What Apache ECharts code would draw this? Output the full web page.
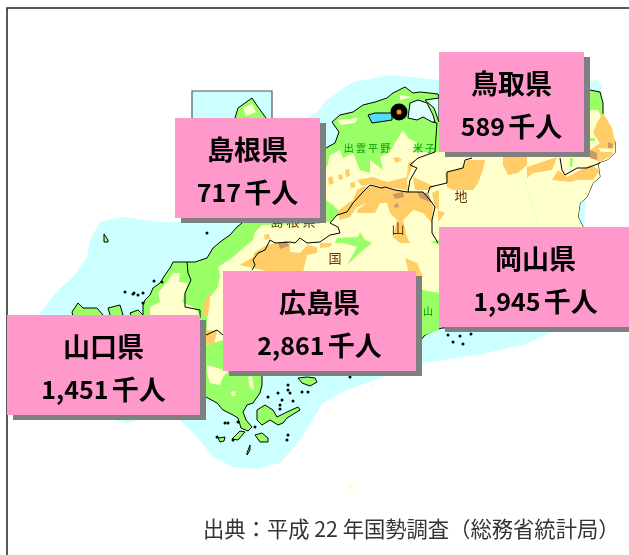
<!DOCTYPE html>
<html>
<head>
<meta charset="utf-8">
<style>
  html, body { margin: 0; padding: 0; background: #fff; }
  #chart { width: 629px; height: 555px; }
</style>
<script src="https://cdn.jsdelivr.net/npm/echarts@6/dist/echarts.min.js"></script>
</head>
<body>
<div id="chart"></div>
<script>
// 県別人口
const prefectures = ['島根県', '鳥取県', '岡山県', '広島県', '山口県']
const population = [717, 589, 1945, 2861, 1451]
const unit = '千人'
const source = '出典：平成 22 年国勢調査（総務省統計局）'

// 枠の中心と大きさ (画面座標)
const boxCenters = [[247.5, 168], [511.5, 102], [535.5, 277], [319.5, 321], [103.5, 365]]
const boxWidths = [145, 145, 193, 193, 193]

// 地図の形 (画面座標をそのまま経緯度の代わりに使う)
const seaShape = [[90,240],[100,222],[123,217],[160,222],[200,222],[250,150],[317,112],[327,100],[353,82],[390,75],[440,80],[585,82],[597,80],[602,85],[602,100],[590,130],[580,300],[550,333],[523,345],[477,355],[422,363],[383,377],[347,390],[323,403],[300,440],[280,463],[257,469],[233,467],[213,457],[197,437],[180,420],[140,420],[127,423],[113,420],[60,400],[30,330],[40,313],[58,290],[73,277],[87,257]]
const insetFrame = [[192,91],[272,91],[272,125],[192,125]]
const mainland = [[143,315],[143,305],[145,300],[150,295],[153,288],[160,283],[165,275],[170,268],[173,262],[183,262],[195,262],[207,258],[213,248],[220,242],[230,235],[237,227],[242,223],[326,148],[335,143],[339,132],[332,122],[340,115],[353,112],[363,105],[375,102],[387,98],[393,93],[405,87],[413,93],[420,92],[438,94],[445,120],[590,90],[600,92],[603,103],[603,120],[610,127],[612,137],[615,142],[615,153],[607,160],[598,163],[600,177],[593,183],[587,197],[580,203],[578,217],[583,227],[600,300],[560,325],[442,328],[435,330],[425,335],[421,340],[400,360],[300,372],[262,372],[262,385],[260,393],[253,403],[247,405],[243,412],[246,420],[252,427],[248,431],[241,428],[238,418],[233,415],[223,410],[217,403],[206,397],[200,400],[150,400]]
const islands = [
  [[257,410],[265,405],[273,410],[277,417],[287,412],[298,407],[300,410],[287,418],[283,423],[278,425],[270,420],[262,425],[257,420]],
  [[255,435],[262,433],[268,438],[268,442],[260,442]],
  [[247,453],[250,445],[250,450],[247,455]],
  [[218,438],[225,437],[224,441],[220,442]],
  [[232,439],[240,431],[245,432],[238,440]],
  [[298,378],[307,377],[315,378],[317,382],[310,386],[302,383]],
  [[72,312],[78,303],[83,308],[97,308],[103,315],[90,325],[75,325]],
  [[108,308],[120,305],[123,315],[112,322]],
  [[130,313],[138,310],[143,315],[135,322]],
  [[104,234],[108,240],[108,242],[104,242]],
  [[235,118],[238,108],[245,103],[252,98],[258,107],[266,118],[266,125],[235,125]]
]
const creamAreas = [
  [[262,225],[320,224],[320,165],[327,167],[330,155],[340,150],[343,158],[353,153],[360,170],[370,173],[370,160],[383,170],[380,157],[390,152],[395,143],[403,130],[408,138],[417,143],[412,152],[435,152],[470,150],[590,150],[590,110],[598,110],[603,120],[610,127],[612,137],[615,142],[615,153],[607,160],[598,163],[600,177],[593,183],[587,197],[580,203],[578,217],[583,227],[590,260],[470,290],[439,293],[422,290],[422,275],[223,275],[223,340],[207,345],[207,310],[210,297],[218,287],[220,275],[218,267],[233,257],[243,248],[253,240],[255,232]],
  [[167,282],[173,273],[180,273],[179,282],[188,283],[185,292],[182,302],[195,308],[200,315],[150,315],[150,307],[160,302],[158,293]],
  [[207,373],[210,383],[220,385],[223,377],[228,371],[207,365]],
  [[248,377],[252,376],[254,390],[250,388]],
  [[231,392],[236,391],[235,396],[232,396]],
  [[338,120],[358,118],[355,123],[340,125]],
  [[400,95],[412,97],[400,100]],
  [[243,108],[252,104],[256,112],[246,116]],
  [[349,484],[353,484],[353,490],[349,490]],
  [[371,385],[375,385],[375,388],[371,388]]
]
const plainGreens = [
  [[326,200],[333,205],[340,212],[330,222],[326,222]],
  [[337,238],[358,237],[360,232],[365,240],[372,243],[363,250],[347,265],[357,247],[343,243],[335,243]],
  [[430,242],[439,240],[439,245]],
  [[422,290],[439,293],[439,330],[425,335],[422,320]],
  [[213,345],[218,343],[222,350],[217,367],[213,360]],
  [[570,158],[573,158],[572,167],[570,167]],
  [[588,138],[595,138],[595,141],[588,141]]
]
const hillAreas = [
  [[240,265],[253,257],[255,252],[267,245],[277,243],[290,243],[290,252],[300,253],[307,245],[317,247],[317,253],[307,255],[303,272],[270,272]],
  [[337,212],[343,207],[353,200],[357,190],[362,187],[370,186],[383,188],[397,190],[420,192],[428,195],[433,207],[432,223],[423,213],[413,210],[403,220],[407,237],[410,243],[400,243],[393,237],[397,220],[390,213],[387,203],[367,203],[357,207],[350,217],[340,220]],
  [[357,180],[373,177],[387,182],[407,177],[408,163],[415,160],[407,180],[408,190],[383,187],[370,184],[362,186]],
  [[413,177],[415,190],[427,190],[435,187],[420,180]],
  [[432,193],[439,190],[439,210],[435,207]],
  [[357,210],[367,203],[380,203],[375,213],[357,213]],
  [[445,173],[463,167],[467,160],[485,160],[483,170],[478,183],[473,190],[453,190],[447,187]],
  [[438,210],[445,213],[438,222]],
  [[503,157],[527,157],[527,165],[518,173],[508,175],[503,165]],
  [[527,167],[557,157],[552,170],[533,173],[527,178]],
  [[552,180],[558,170],[567,177],[590,165],[600,170],[593,180],[577,180],[570,182]],
  [[603,113],[612,128],[615,142],[612,155],[600,162],[590,157],[590,150],[600,143],[593,133],[597,123]],
  [[405,258],[417,263],[423,277],[410,277]],
  [[320,243],[332,243],[330,247],[320,248]],
  [[393,158],[398,157],[402,160],[396,163]],
  [[264,235],[269,234],[270,239],[265,240]],
  [[202,316],[205,300],[209,293],[210,300],[208,316]],
  [[205,330],[217,331],[214,345],[205,343]],
  [[328,178],[332,176],[334,183],[329,185]],
  [[345,170],[349,169],[350,176],[346,177]],
  [[338,175],[342,174],[343,179],[339,180]],
  [[350,183],[355,182],[355,187],[351,188]]
]
const peakAreas = [
  [[278,243],[287,241],[289,246],[280,249]],
  [[393,194],[403,192],[404,197],[395,199]],
  [[417,192],[428,193],[432,203],[420,198]],
  [[394,205],[398,203],[399,207],[395,208]],
  [[590,150],[597,153],[597,160],[590,158]],
  [[608,142],[613,144],[612,148],[608,148]]
]
const lakes = [
  [[368,115],[375,113],[392,113],[392,120],[372,123]]
]
const lagoons = [
  [[410,103],[418,100],[427,103],[433,115],[435,122],[432,122],[423,117],[417,120],[408,118]],
  [[425,100],[439,98],[439,122],[434,108]]
]
const creamStreaks = [
  [[598,148],[613,149],[612,152],[601,152]]
]

// 県境
const borders = [
  [[252,270],[255,265],[253,260],[258,253],[265,250],[270,240],[275,243],[290,242],[295,243],[300,238],[307,243],[320,242],[330,235],[340,233],[338,227],[330,223],[337,215],[347,212],[353,203],[362,193],[370,185],[382,188],[385,187],[395,190],[407,192],[423,192],[430,200],[435,207],[432,220],[432,233],[438,243]],
  [[408,192],[410,180],[417,168],[410,165],[418,158],[435,152],[437,123],[433,122]],
  [[428,193],[430,187],[447,183],[447,172],[463,168],[465,160],[472,158]],
  [[560,158],[562,170],[565,175],[577,168],[587,168],[595,165],[600,163]],
  [[187,262],[188,273],[191,280],[185,293],[185,307],[200,310],[200,318]],
  [[206,335],[217,330],[223,335]]
]
const paleLine = [[522,173],[537,217],[535,227]]
const frameLine = [[7,555],[7,8],[629,8]]

// 小島
const islets = [[207,233],[154,281],[162,282],[134,293],[138,295],[125,292],[133,294],[143,293],[143,303],[268,397],[278,393],[282,400],[280,405],[280,409],[288,385],[288,390],[290,393],[293,401],[302,392],[308,392],[228,423],[225,423],[238,422],[217,437],[233,440],[288,435],[287,440],[255,427],[350,377],[448,335],[453,342],[460,336],[463,344],[471,334]]
const cityPoint = [399, 112]

const greenText = [['出 雲 平 野', [367, 148]], ['米 子', [424, 148]], ['山', [428, 311]]]
const brownText = [['島 根 県', [293, 221]], ['山', [398, 228]], ['地', [461, 196]], ['国', [335, 258]]]

const whole = [[[0,0],[629,0],[629,555],[0,555]]]

function layer(name, polys) {
  return {
    type: 'Feature',
    properties: { name },
    geometry: { type: 'MultiPolygon', coordinates: polys.map(p => [p.concat([p[0]])]) }
  }
}

echarts.registerMap('chugoku', {
  type: 'FeatureCollection',
  features: [
    layer('whole', whole),
    layer('sea', [seaShape]),
    layer('inset', [insetFrame]),
    layer('land', [mainland].concat(islands)),
    layer('cream', creamAreas),
    layer('plain', plainGreens),
    layer('hill', hillAreas),
    layer('peak', peakAreas),
    layer('streak', creamStreaks),
    layer('lake', lakes),
    layer('lagoon', lagoons)
  ]
})

function region(name, color, borderColor, borderWidth) {
  return {
    name,
    itemStyle: { areaColor: color, borderColor: borderColor || color, borderWidth: borderWidth || 0 },
    emphasis: { disabled: true },
    label: { show: false }
  }
}

const chart = echarts.init(document.getElementById('chart'))

function placeText(items, color, size, weight) {
  return {
    type: 'scatter',
    coordinateSystem: 'geo',
    z: 3,
    silent: true,
    symbolSize: 0,
    itemStyle: { opacity: 1 },
    data: items.map(d => ({ name: d[0], value: d[1] })),
    label: {
      show: true,
      position: 'inside',
      formatter: '{b}',
      color,
      fontSize: size,
      fontWeight: weight,
      fontFamily: 'Noto Sans CJK JP'
    }
  }
}

chart.setOption({
  animation: false,
  backgroundColor: '#fff',
  title: {
    text: source,
    left: 203,
    top: 518,
    padding: 0,
    textStyle: { color: '#333', fontSize: 21.3, fontWeight: 'normal', fontFamily: 'Noto Sans CJK JP' }
  },
  geo: {
    map: 'chugoku',
    projection: { project: p => p, unproject: p => p },
    left: 0,
    top: 0,
    width: 629,
    height: 555,
    silent: true,
    roam: false,
    itemStyle: { areaColor: '#fff', borderWidth: 0 },
    regions: [
      { name: 'whole', itemStyle: { areaColor: '#fff', borderWidth: 0 } },
      region('sea', '#CCFFFF'),
      region('inset', '#CCFFFF', '#555', 1.2),
      region('land', '#99FF66', '#000', 1),
      region('cream', '#FFFFCC'),
      region('plain', '#99FF66'),
      region('hill', '#FFCC66'),
      region('peak', '#CC9966'),
      region('streak', '#FFFFCC'),
      region('lake', '#55DDFF', '#000', 1),
      region('lagoon', '#DDFFFF', '#000', 1)
    ]
  },
  series: [
    {
      type: 'lines',
      coordinateSystem: 'geo',
      polyline: true,
      z: 2,
      silent: true,
      lineStyle: { color: '#000', width: 1, opacity: 1 },
      data: borders.map(coords => ({ coords }))
    },
    {
      type: 'lines',
      coordinateSystem: 'geo',
      polyline: true,
      z: 2,
      silent: true,
      lineStyle: { color: '#E5FFCC', width: 1, opacity: 1 },
      data: [{ coords: paleLine }]
    },
    {
      type: 'lines',
      coordinateSystem: 'geo',
      polyline: true,
      z: 2,
      silent: true,
      lineStyle: { color: '#222', width: 1.5, opacity: 1 },
      data: [{ coords: frameLine }]
    },
    {
      type: 'scatter',
      coordinateSystem: 'geo',
      z: 2,
      silent: true,
      symbolSize: 3,
      itemStyle: { color: '#000', opacity: 1 },
      data: islets
    },
    {
      type: 'scatter',
      coordinateSystem: 'geo',
      z: 3,
      silent: true,
      symbolSize: 17,
      itemStyle: { color: '#000', opacity: 1 },
      data: [cityPoint]
    },
    {
      type: 'scatter',
      coordinateSystem: 'geo',
      z: 3,
      silent: true,
      symbolSize: 5,
      itemStyle: { color: '#FF9900', opacity: 1 },
      data: [cityPoint]
    },
    placeText(greenText, '#009900', 10, 'normal'),
    placeText(brownText, '#663300', 13, 'normal'),
    {
      type: 'scatter',
      coordinateSystem: 'geo',
      z: 10,
      silent: true,
      symbolSize: 0,
      itemStyle: { opacity: 1 },
      data: prefectures.map((name, i) => ({
        name,
        value: boxCenters[i].concat(population[i]),
        label: { width: boxWidths[i] }
      })),
      label: {
        show: true,
        position: 'inside',
        height: 90,
        padding: [10, 0, 0, 0],
        align: 'center',
        verticalAlign: 'middle',
        opacity: 1,
        backgroundColor: '#FF99CC',
        shadowColor: '#808080',
        shadowBlur: 0,
        shadowOffsetX: 6,
        shadowOffsetY: 5,
        formatter: p => '{name|' + p.name + '}\n{num|' + p.value[2].toLocaleString('en-US') + '} {unit|' + unit + '}',
        rich: {
          name: { fontFamily: 'Noto Sans CJK JP', fontWeight: 'bold', fontSize: 27, lineHeight: 43, color: '#000', align: 'center' },
          num: { fontFamily: 'Noto Sans CJK JP', fontWeight: 'bold', fontSize: 25, lineHeight: 43, color: '#000' },
          unit: { fontFamily: 'Noto Sans CJK JP', fontWeight: 'bold', fontSize: 27, lineHeight: 43, color: '#000' }
        }
      }
    }
  ]
})
</script>
</body>
</html>
